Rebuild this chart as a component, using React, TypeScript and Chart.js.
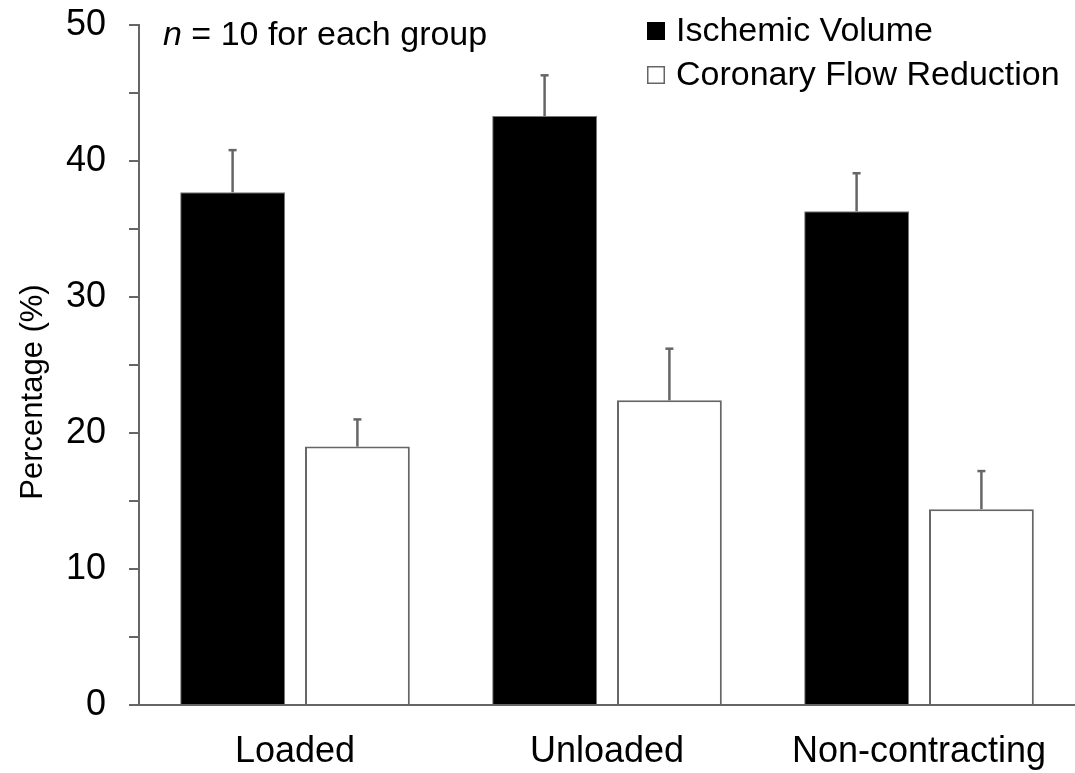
import React, { useEffect, useRef } from "react";
import { Chart, registerables } from "chart.js";

Chart.register(...registerables);

// ---- data ----
const groups = ["Loaded", "Unloaded", "Non-contracting"];
const seriesNames = ["Ischemic Volume", "Coronary Flow Reduction"];
const ischemicVolume = [37.7, 43.3, 36.3];
const ischemicVolumeErr = [3.1, 3.0, 2.8];
const flowReduction = [19.0, 22.4, 14.4];
const flowReductionErr = [2.0, 3.8, 2.8];
const yLabelValues = [0, 10, 20, 30, 40, 50];
const yTitle = "Percentage (%)";
const noteItalic = "n";
const noteRest = " = 10 for each group";

const FONT = "'Liberation Sans', Arial, Helvetica, sans-serif";
const AXIS_GREY = "#666666";

// Upward-only error whiskers with a short cap
const errorBarPlugin = {
  id: "errorBars",
  afterDatasetsDraw(chart: any) {
    const { ctx, scales } = chart;
    const yScale = scales.y;
    chart.data.datasets.forEach((ds: any, i: number) => {
      const meta = chart.getDatasetMeta(i);
      if (!ds.errors) return;
      meta.data.forEach((bar: any, j: number) => {
        const v = ds.data[j];
        const e = ds.errors[j];
        const x = bar.x;
        const y0 = yScale.getPixelForValue(v);
        const y1 = yScale.getPixelForValue(v + e);
        ctx.save();
        ctx.strokeStyle = AXIS_GREY;
        ctx.lineWidth = 2.5;
        ctx.beginPath();
        ctx.moveTo(x, y0);
        ctx.lineTo(x, y1);
        ctx.stroke();
        ctx.beginPath();
        ctx.moveTo(x - 4, y1);
        ctx.lineTo(x + 4, y1);
        ctx.stroke();
        ctx.restore();
      });
    });
  },
};

// Axis title, legend in the top-right corner and the sample-size note
const overlayPlugin = {
  id: "overlayText",
  afterDraw(chart: any) {
    const { ctx, chartArea } = chart;
    ctx.save();

    // rotated y-axis title
    ctx.save();
    ctx.translate(33, 392);
    ctx.rotate(-Math.PI / 2);
    ctx.font = `31px ${FONT}`;
    ctx.fillStyle = "#000";
    ctx.textAlign = "center";
    ctx.textBaseline = "middle";
    ctx.fillText(yTitle, 0, 0);
    ctx.restore();

    ctx.font = `34px ${FONT}`;
    ctx.textBaseline = "alphabetic";
    ctx.textAlign = "left";
    const boxX = 647;
    const textX = 676;
    const rows = [41, 85];
    chart.data.datasets.forEach((ds: any, i: number) => {
      const base = rows[i];
      const size = 18;
      const top = base - 19;
      ctx.fillStyle = ds.backgroundColor;
      ctx.fillRect(boxX, top, size, size);
      ctx.strokeStyle = ds.legendStroke;
      ctx.lineWidth = 1.5;
      ctx.strokeRect(boxX + 0.75, top + 0.75, size - 1.5, size - 1.5);
      ctx.fillStyle = "#000";
      ctx.fillText(ds.label, textX, base);
    });

    // sample-size note with italic "n"
    const nx = chartArea.left + 24;
    const ny = 45;
    ctx.font = `italic 34px ${FONT}`;
    ctx.fillStyle = "#000";
    ctx.fillText(noteItalic, nx, ny);
    const w = ctx.measureText(noteItalic).width;
    ctx.font = `34px ${FONT}`;
    ctx.fillText(noteRest, nx + w, ny);
    ctx.restore();
  },
};

export default function App() {
  const canvasRef = useRef<HTMLCanvasElement | null>(null);

  useEffect(() => {
    const canvas = canvasRef.current;
    if (!canvas) return;
    const chart = new Chart(canvas, {
      type: "bar",
      data: {
        labels: groups,
        datasets: [
          {
            label: seriesNames[0],
            data: ischemicVolume,
            errors: ischemicVolumeErr,
            backgroundColor: "#000000",
            borderColor: "#777777",
            borderWidth: 1,
            legendStroke: "#000000",
          } as any,
          {
            label: seriesNames[1],
            data: flowReduction,
            errors: flowReductionErr,
            backgroundColor: "#ffffff",
            borderColor: AXIS_GREY,
            borderWidth: 2,
            legendStroke: "#666666",
          } as any,
        ],
      },
      options: {
        responsive: false,
        animation: false,
        devicePixelRatio: 1,
        layout: { padding: { top: 25, left: 0, right: 0, bottom: 0 } },
        datasets: {
          bar: { categoryPercentage: 0.8, barPercentage: 0.84 },
        },
        plugins: {
          legend: { display: false },
          tooltip: { enabled: false },
          title: { display: false },
        },
        scales: {
          x: {
            type: "category",
            grid: { display: false, drawTicks: false },
            border: { display: true, color: AXIS_GREY, width: 2 },
            ticks: {
              color: "#000",
              padding: 25,
              font: { family: FONT, size: 36 },
              maxRotation: 0,
              autoSkip: false,
            },
            afterFit(scale: any) {
              scale.height = 68;
              scale.paddingLeft = 0;
              scale.paddingRight = 0;
            },
          },
          y: {
            type: "linear",
            min: 0,
            max: 50,
            ticks: {
              stepSize: 5,
              color: "#000",
              padding: 23,
              font: { family: FONT, size: 36 },
              callback: (v: any) => (yLabelValues.includes(Number(v)) ? String(v) : ""),
            },
            grid: {
              display: true,
              drawOnChartArea: false,
              drawTicks: true,
              tickLength: 10,
              color: AXIS_GREY,
              lineWidth: 2,
            },
            border: { display: true, color: AXIS_GREY, width: 2 },
            title: { display: false },
            afterFit(scale: any) {
              scale.width = 139;
              scale.paddingTop = 0;
              scale.paddingBottom = 0;
            },
          },
        },
      },
      plugins: [errorBarPlugin, overlayPlugin],
    } as any);
    return () => chart.destroy();
  }, []);

  return (
    <div style={{ position: "fixed", left: 0, top: 0, width: 1075, height: 773, background: "#fff" }}>
      <canvas ref={canvasRef} width={1075} height={773} style={{ display: "block" }} />
    </div>
  );
}
